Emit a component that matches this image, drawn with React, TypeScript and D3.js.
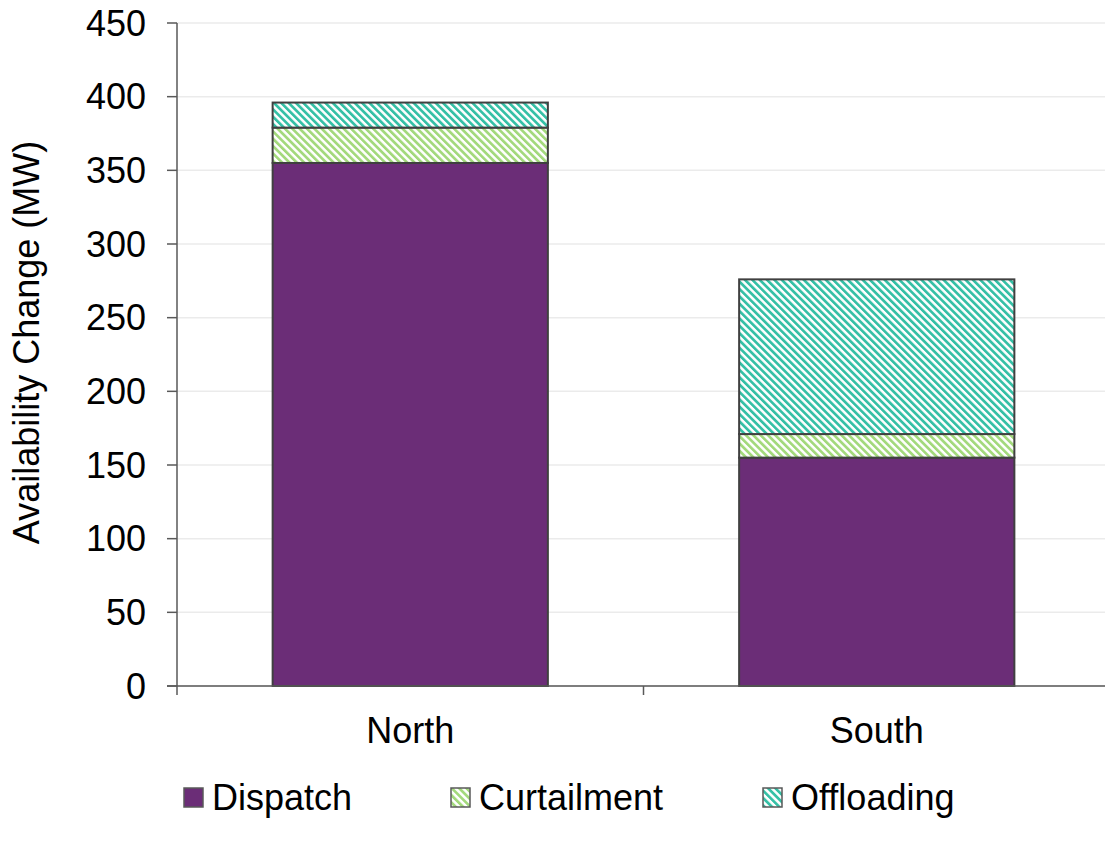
import React from "react";
import * as d3 from "d3";

const categories = ["North", "South"];
const seriesNames = ["Dispatch", "Curtailment", "Offloading"];
const dispatch = [355, 155];
const curtailment = [24, 16];
const offloading = [17, 105];
const yTicks = [0, 50, 100, 150, 200, 250, 300, 350, 400, 450];
const yLabel = "Availability Change (MW)";

const W = 1105;
const H = 843;
const M = { left: 177, right: 1110, top: 23, bottom: 686 };
const FONT = "'Liberation Sans', Arial, sans-serif";
const FS = 36;

const fills = ["#6B2D77", "url(#hatchCurt)", "url(#hatchOff)"];
const stripeColors = [null, "#A3D97C", "#35C0A6"];

export default function App() {
  const x = d3
    .scaleBand<string>()
    .domain(categories)
    .range([M.left, M.right])
    .paddingInner(0.41)
    .paddingOuter(0.205);
  const y = d3.scaleLinear().domain([0, 450]).range([M.bottom, M.top]);

  const rows = categories.map((c, i) => ({
    cat: c,
    Dispatch: dispatch[i],
    Curtailment: curtailment[i],
    Offloading: offloading[i],
  }));
  const stack = d3.stack<any>().keys(seriesNames)(rows);
  const step = x.step();
  const catTicks = d3.range(categories.length + 1).map((i) => M.left + i * step);

  const legendX = [184, 451, 763];

  return (
    <svg
      width={W}
      height={H}
      style={{ position: "absolute", left: 0, top: 0, background: "#fff" }}
      fontFamily={FONT}
    >
      <defs>
        {[1, 2].map((k) => (
          <pattern
            key={k}
            id={k === 1 ? "hatchCurt" : "hatchOff"}
            patternUnits="userSpaceOnUse"
            width={5.2}
            height={5.2}
            patternTransform="rotate(-45)"
          >
            <rect width={5.2} height={5.2} fill="#fff" />
            <rect width={2.7} height={5.2} fill={stripeColors[k] as string} />
          </pattern>
        ))}
      </defs>
      <rect width={W} height={H} fill="#fff" />
      {/* gridlines */}
      {yTicks.map((t) => (
        <line
          key={"g" + t}
          x1={M.left}
          x2={M.right}
          y1={y(t)}
          y2={y(t)}
          stroke="#EBEBEB"
          strokeWidth={1.5}
        />
      ))}
      {/* bars */}
      {stack.map((s, si) =>
        s.map((d, i) => (
          <rect
            key={si + "-" + i}
            x={x(categories[i])!}
            width={x.bandwidth()}
            y={y(d[1])}
            height={y(d[0]) - y(d[1])}
            fill={fills[si]}
            stroke="#404040"
            strokeWidth={2}
          />
        ))
      )}
      {/* y axis */}
      <line x1={M.left} x2={M.left} y1={y(450)} y2={y(0)} stroke="#595959" strokeWidth={1.5} />
      {yTicks.map((t) => (
        <g key={"t" + t}>
          <line x1={M.left - 10} x2={M.left} y1={y(t)} y2={y(t)} stroke="#595959" strokeWidth={1.5} />
          <text
            x={M.left - 31}
            y={y(t)}
            dy="0.35em"
            textAnchor="end"
            fontSize={FS}
            fill="#000"
          >
            {t}
          </text>
        </g>
      ))}
      {/* x axis */}
      <line x1={M.left - 10} x2={M.right} y1={y(0)} y2={y(0)} stroke="#595959" strokeWidth={1.5} />
      {catTicks.map((tx, i) => (
        <line key={"ct" + i} x1={tx} x2={tx} y1={y(0)} y2={y(0) + 9} stroke="#595959" strokeWidth={1.5} />
      ))}
      {categories.map((c) => (
        <text
          key={c}
          x={x(c)! + x.bandwidth() / 2}
          y={743}
          textAnchor="middle"
          fontSize={FS}
          fill="#000"
        >
          {c}
        </text>
      ))}
      {/* y label */}
      <text
        transform={`translate(39, ${(133 + 552) / 2}) rotate(-90)`}
        textAnchor="middle"
        fontSize={FS}
        fill="#000"
      >
        {yLabel}
      </text>
      {/* legend */}
      {seriesNames.map((n, i) => (
        <g key={n}>
          <rect
            x={legendX[i]}
            y={788}
            width={19}
            height={19}
            fill={fills[i]}
            stroke="#595959"
            strokeWidth={1.5}
          />
          <text x={legendX[i] + 28} y={810} fontSize={FS} fill="#000">
            {n}
          </text>
        </g>
      ))}
    </svg>
  );
}
